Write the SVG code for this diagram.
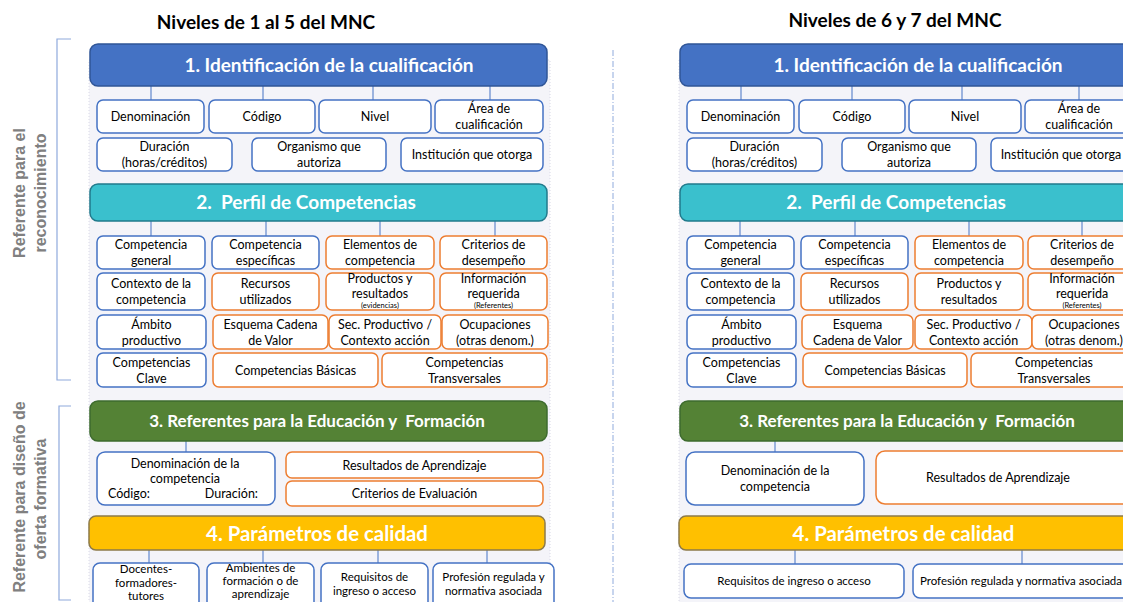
<svg xmlns="http://www.w3.org/2000/svg" width="1123" height="602" viewBox="0 0 1123 602">
<style>
.bg{fill:#ffffff}
.panel{fill:#f4f4f9;stroke:#d8d8e6;stroke-width:1;stroke-dasharray:1 2}
.bb{fill:#ffffff;stroke:#4472c4;stroke-width:1.5}
.ob{fill:#ffffff;stroke:#ed7d31;stroke-width:1.5}
.h1{fill:#4472c4;stroke:#2f5597;stroke-width:1.5}
.h2{fill:#3ac0cd;stroke:#217a8c;stroke-width:1.5}
.h3{fill:#548235;stroke:#3d6b2e;stroke-width:1.5}
.h4{fill:#ffc000;stroke:#8c7a4a;stroke-width:1.5}
.t{font-family:Lato,"Open Sans",sans-serif;font-size:12.5px;fill:#000;text-anchor:middle}
.ts{font-family:Lato,"Open Sans",sans-serif;font-size:11.5px;fill:#000;text-anchor:middle}
.tx{font-family:Lato,"Open Sans",sans-serif;font-size:7.5px;fill:#000;text-anchor:middle}
.ht{font-family:Lato,"Open Sans",sans-serif;font-size:19px;font-weight:bold;fill:#fff;text-anchor:middle}
.ht3{font-family:Lato,"Open Sans",sans-serif;font-size:17px;font-weight:bold;fill:#fff;text-anchor:middle}
.ht4{font-family:Lato,"Open Sans",sans-serif;font-size:20.4px;font-weight:bold;fill:#fff;text-anchor:middle}
.title{font-family:Lato,"Open Sans",sans-serif;font-size:19px;font-weight:bold;fill:#000;text-anchor:middle}
.side{font-family:"Liberation Sans",Arial,sans-serif;font-size:16px;font-weight:bold;fill:#808080;text-anchor:middle}
.con line{stroke:#4472c4;stroke-width:1}
.brk{fill:none;stroke:#8faadc;stroke-width:1.2}
.sep{stroke:#8faadc;stroke-width:1;stroke-dasharray:6 2 1 2}
</style>
<rect class="bg" x="0" y="0" width="1123" height="602"/>

<g id="side-labels">
  <path class="brk" d="M71,39 H57 V380 H71"/>
  <path class="brk" d="M71,406 H59 V600 H71"/>
  <text class="side" transform="translate(25,193) rotate(-90)">Referente para el</text>
  <text class="side" transform="translate(46,193) rotate(-90)">reconocimiento</text>
  <text class="side" transform="translate(25,497) rotate(-90)">Referente para diseño de</text>
  <text class="side" transform="translate(46,499) rotate(-90)">oferta formativa</text>
  <line class="sep" x1="613" y1="50" x2="613" y2="602"/>
</g>

<g id="titles">
  <text class="title" x="266" y="29">Niveles de 1 al 5 del MNC</text>
  <text class="title" x="895" y="27">Niveles de 6 y 7 del MNC</text>
</g>

<rect class="panel" x="89" y="60" width="461" height="550"/>
<rect class="panel" x="679" y="60" width="460" height="550"/>

<g id="connectors" class="con">
  <line x1="151" y1="86" x2="151" y2="100"/><line x1="263" y1="86" x2="263" y2="100"/><line x1="373" y1="86" x2="373" y2="100"/><line x1="490" y1="86" x2="490" y2="100"/>
  <line x1="151" y1="221" x2="151" y2="236"/><line x1="266" y1="221" x2="266" y2="236"/><line x1="380" y1="221" x2="380" y2="236"/><line x1="495" y1="221" x2="495" y2="236"/>
  <line x1="186" y1="441" x2="186" y2="452"/>
  <line x1="149" y1="550" x2="149" y2="563"/><line x1="263" y1="550" x2="263" y2="563"/><line x1="378" y1="550" x2="378" y2="563"/><line x1="487" y1="550" x2="487" y2="563"/>
  <line x1="741" y1="86" x2="741" y2="100"/><line x1="852" y1="86" x2="852" y2="100"/><line x1="962" y1="86" x2="962" y2="100"/><line x1="1079" y1="86" x2="1079" y2="100"/>
  <line x1="740" y1="221" x2="740" y2="236"/><line x1="855" y1="221" x2="855" y2="236"/><line x1="969" y1="221" x2="969" y2="236"/><line x1="1082" y1="221" x2="1082" y2="236"/>
  <line x1="775" y1="441" x2="775" y2="452"/>
  <line x1="795" y1="550" x2="795" y2="564"/><line x1="1022" y1="550" x2="1022" y2="564"/>
</g>

<!-- LEFT PANEL -->
<g id="L-h1"><rect class="h1" x="90" y="44" width="457" height="42" rx="8"/><text class="ht" x="329" y="72">1. Identificación de la cualificación</text></g>
<g id="L-denominacion"><rect class="bb" x="97" y="100" width="107" height="33" rx="6"/><text class="t" x="150.5" y="121">Denominación</text></g>
<g id="L-codigo"><rect class="bb" x="209" y="100" width="106" height="33" rx="6"/><text class="t" x="262" y="121">Código</text></g>
<g id="L-nivel"><rect class="bb" x="319" y="100" width="112" height="33" rx="6"/><text class="t" x="375" y="121">Nivel</text></g>
<g id="L-area"><rect class="bb" x="435" y="100" width="108" height="33" rx="6"/><text class="t" x="489" y="113">Área de</text><text class="t" x="489" y="129">cualificación</text></g>
<g id="L-duracion"><rect class="bb" x="97" y="138" width="135" height="33" rx="6"/><text class="t" x="164.5" y="151">Duración</text><text class="t" x="164.5" y="167">(horas/créditos)</text></g>
<g id="L-organismo"><rect class="bb" x="252" y="138" width="134" height="33" rx="6"/><text class="t" x="319" y="151">Organismo que</text><text class="t" x="319" y="167">autoriza</text></g>
<g id="L-institucion"><rect class="bb" x="401" y="138" width="142" height="33" rx="6"/><text class="t" x="472" y="159">Institución que otorga</text></g>

<g id="L-h2"><rect class="h2" x="90" y="184" width="457" height="37" rx="8"/><text class="ht" x="306" y="209" xml:space="preserve">2.  Perfil de Competencias</text></g>
<g id="L-comp-general"><rect class="bb" x="97" y="236" width="108" height="33" rx="6"/><text class="t" x="151" y="249">Competencia</text><text class="t" x="151" y="265">general</text></g>
<g id="L-comp-especificas"><rect class="bb" x="212" y="236" width="107" height="33" rx="6"/><text class="t" x="265.5" y="249">Competencia</text><text class="t" x="265.5" y="265">específicas</text></g>
<g id="L-elementos"><rect class="ob" x="326" y="236" width="108" height="33" rx="6"/><text class="t" x="380" y="249">Elementos de</text><text class="t" x="380" y="265">competencia</text></g>
<g id="L-criterios-des"><rect class="ob" x="440" y="236" width="107" height="33" rx="6"/><text class="t" x="493.5" y="249">Criterios de</text><text class="t" x="493.5" y="265">desempeño</text></g>
<g id="L-contexto"><rect class="bb" x="97" y="273" width="108" height="37" rx="6"/><text class="t" x="151" y="288">Contexto de la</text><text class="t" x="151" y="304">competencia</text></g>
<g id="L-recursos"><rect class="ob" x="212" y="273" width="107" height="37" rx="6"/><text class="t" x="265.5" y="288">Recursos</text><text class="t" x="265.5" y="304">utilizados</text></g>
<g id="L-productos"><rect class="ob" x="326" y="273" width="108" height="37" rx="6"/><text class="t" x="380" y="283">Productos y</text><text class="t" x="380" y="298">resultados</text><text class="tx" x="380" y="308">(evidencias)</text></g>
<g id="L-informacion"><rect class="ob" x="440" y="273" width="107" height="37" rx="6"/><text class="t" x="493.5" y="283">Información</text><text class="t" x="493.5" y="298">requerida</text><text class="tx" x="493.5" y="308">(Referentes)</text></g>
<g id="L-ambito"><rect class="bb" x="97" y="315" width="109" height="34" rx="6"/><text class="t" x="151.5" y="328.5">Ámbito</text><text class="t" x="151.5" y="344.5">productivo</text></g>
<g id="L-esquema"><rect class="ob" x="213" y="315" width="115" height="34" rx="6"/><text class="t" x="270.5" y="328.5">Esquema Cadena</text><text class="t" x="270.5" y="344.5">de Valor</text></g>
<g id="L-sector"><rect class="ob" x="329" y="315" width="112" height="34" rx="6"/><text class="t" x="385" y="328.5">Sec. Productivo /</text><text class="t" x="385" y="344.5">Contexto acción</text></g>
<g id="L-ocupaciones"><rect class="ob" x="442" y="315" width="106" height="34" rx="6"/><text class="t" x="495" y="328.5">Ocupaciones</text><text class="t" x="495" y="344.5">(otras denom.)</text></g>
<g id="L-clave"><rect class="bb" x="97" y="353" width="109" height="34" rx="6"/><text class="t" x="151.5" y="366.5">Competencias</text><text class="t" x="151.5" y="382.5">Clave</text></g>
<g id="L-basicas"><rect class="ob" x="213" y="353" width="165" height="34" rx="6"/><text class="t" x="295.5" y="374.5">Competencias Básicas</text></g>
<g id="L-transversales"><rect class="ob" x="382" y="353" width="165" height="34" rx="6"/><text class="t" x="464.5" y="366.5">Competencias</text><text class="t" x="464.5" y="382.5">Transversales</text></g>

<g id="L-h3"><rect class="h3" x="90" y="401" width="457" height="40" rx="8"/><text class="ht3" x="317" y="427" xml:space="preserve">3. Referentes para la Educación y  Formación</text></g>
<g id="L-denom-comp"><rect class="bb" x="97" y="452" width="178" height="53" rx="8"/><text class="t" x="185" y="468">Denominación de la</text><text class="t" x="185" y="483">competencia</text><text class="t" x="108" y="498" style="text-anchor:start">Código:</text><text class="t" x="258" y="498" style="text-anchor:end">Duración:</text></g>
<g id="L-resultados"><rect class="ob" x="286" y="452" width="257" height="26" rx="6"/><text class="t" x="414.5" y="469.5">Resultados de Aprendizaje</text></g>
<g id="L-criterios-eval"><rect class="ob" x="286" y="481" width="257" height="25" rx="6"/><text class="t" x="414.5" y="497.5">Criterios de Evaluación</text></g>

<g id="L-h4"><rect class="h4" x="89" y="516" width="456" height="34" rx="7"/><text class="ht4" x="317" y="541">4. Parámetros de calidad</text></g>
<g id="L-docentes"><rect class="bb" x="93" y="563" width="106" height="46" rx="7"/><text class="ts" x="146" y="573">Docentes-</text><text class="ts" x="146" y="587">formadores-</text><text class="ts" x="146" y="600">tutores</text></g>
<g id="L-ambientes"><rect class="bb" x="207" y="563" width="107" height="46" rx="7"/><text class="ts" x="260.5" y="572">Ambientes de</text><text class="ts" x="260.5" y="585">formación o de</text><text class="ts" x="260.5" y="598">aprendizaje</text></g>
<g id="L-requisitos"><rect class="bb" x="321" y="563" width="107" height="46" rx="7"/><text class="ts" x="374.5" y="581">Requisitos de</text><text class="ts" x="374.5" y="595">ingreso o acceso</text></g>
<g id="L-profesion"><rect class="bb" x="433" y="563" width="121" height="46" rx="7"/><text class="ts" x="493.5" y="581">Profesión regulada y</text><text class="ts" x="493.5" y="595">normativa asociada</text></g>

<!-- RIGHT PANEL -->
<g id="R-h1"><rect class="h1" x="680" y="44" width="460" height="42" rx="8"/><text class="ht" x="918" y="72">1. Identificación de la cualificación</text></g>
<g id="R-denominacion"><rect class="bb" x="687" y="100" width="107" height="33" rx="6"/><text class="t" x="740.5" y="121">Denominación</text></g>
<g id="R-codigo"><rect class="bb" x="799" y="100" width="106" height="33" rx="6"/><text class="t" x="852" y="121">Código</text></g>
<g id="R-nivel"><rect class="bb" x="909" y="100" width="112" height="33" rx="6"/><text class="t" x="965" y="121">Nivel</text></g>
<g id="R-area"><rect class="bb" x="1025" y="100" width="108" height="33" rx="6"/><text class="t" x="1079" y="113">Área de</text><text class="t" x="1079" y="129">cualificación</text></g>
<g id="R-duracion"><rect class="bb" x="687" y="138" width="135" height="33" rx="6"/><text class="t" x="754.5" y="151">Duración</text><text class="t" x="754.5" y="167">(horas/créditos)</text></g>
<g id="R-organismo"><rect class="bb" x="842" y="138" width="134" height="33" rx="6"/><text class="t" x="909" y="151">Organismo que</text><text class="t" x="909" y="167">autoriza</text></g>
<g id="R-institucion"><rect class="bb" x="991" y="138" width="142" height="33" rx="6"/><text class="t" x="1061" y="159">Institución que otorga</text></g>

<g id="R-h2"><rect class="h2" x="680" y="184" width="460" height="37" rx="8"/><text class="ht" x="896" y="209" xml:space="preserve">2.  Perfil de Competencias</text></g>
<g id="R-comp-general"><rect class="bb" x="687" y="236" width="107" height="33" rx="6"/><text class="t" x="740.5" y="249">Competencia</text><text class="t" x="740.5" y="265">general</text></g>
<g id="R-comp-especificas"><rect class="bb" x="801" y="236" width="107" height="33" rx="6"/><text class="t" x="854.5" y="249">Competencia</text><text class="t" x="854.5" y="265">específicas</text></g>
<g id="R-elementos"><rect class="ob" x="915" y="236" width="108" height="33" rx="6"/><text class="t" x="969" y="249">Elementos de</text><text class="t" x="969" y="265">competencia</text></g>
<g id="R-criterios-des"><rect class="ob" x="1028" y="236" width="108" height="33" rx="6"/><text class="t" x="1082" y="249">Criterios de</text><text class="t" x="1082" y="265">desempeño</text></g>
<g id="R-contexto"><rect class="bb" x="687" y="273" width="107" height="37" rx="6"/><text class="t" x="740.5" y="288">Contexto de la</text><text class="t" x="740.5" y="304">competencia</text></g>
<g id="R-recursos"><rect class="ob" x="801" y="273" width="107" height="37" rx="6"/><text class="t" x="854.5" y="288">Recursos</text><text class="t" x="854.5" y="304">utilizados</text></g>
<g id="R-productos"><rect class="ob" x="915" y="273" width="108" height="37" rx="6"/><text class="t" x="969" y="288">Productos y</text><text class="t" x="969" y="304">resultados</text></g>
<g id="R-informacion"><rect class="ob" x="1028" y="273" width="108" height="37" rx="6"/><text class="t" x="1082" y="283">Información</text><text class="t" x="1082" y="298">requerida</text><text class="tx" x="1082" y="308">(Referentes)</text></g>
<g id="R-ambito"><rect class="bb" x="687" y="315" width="109" height="34" rx="6"/><text class="t" x="741.5" y="328.5">Ámbito</text><text class="t" x="741.5" y="344.5">productivo</text></g>
<g id="R-esquema"><rect class="ob" x="802" y="315" width="111" height="34" rx="6"/><text class="t" x="857.5" y="328.5">Esquema</text><text class="t" x="857.5" y="344.5">Cadena de Valor</text></g>
<g id="R-sector"><rect class="ob" x="915" y="315" width="117" height="34" rx="6"/><text class="t" x="973.5" y="328.5">Sec. Productivo /</text><text class="t" x="973.5" y="344.5">Contexto acción</text></g>
<g id="R-ocupaciones"><rect class="ob" x="1032" y="315" width="106" height="34" rx="6"/><text class="t" x="1084" y="328.5">Ocupaciones</text><text class="t" x="1084" y="344.5">(otras denom.)</text></g>
<g id="R-clave"><rect class="bb" x="687" y="353" width="109" height="34" rx="6"/><text class="t" x="741.5" y="366.5">Competencias</text><text class="t" x="741.5" y="382.5">Clave</text></g>
<g id="R-basicas"><rect class="ob" x="803" y="353" width="164" height="34" rx="6"/><text class="t" x="885" y="374.5">Competencias Básicas</text></g>
<g id="R-transversales"><rect class="ob" x="971" y="353" width="166" height="34" rx="6"/><text class="t" x="1054" y="366.5">Competencias</text><text class="t" x="1054" y="382.5">Transversales</text></g>

<g id="R-h3"><rect class="h3" x="680" y="401" width="460" height="40" rx="8"/><text class="ht3" x="907" y="427" xml:space="preserve">3. Referentes para la Educación y  Formación</text></g>
<g id="R-denom-comp"><rect class="bb" x="686" y="452" width="178" height="53" rx="9"/><text class="t" x="775" y="475">Denominación de la</text><text class="t" x="775" y="491">competencia</text></g>
<g id="R-resultados"><rect class="ob" x="876" y="451" width="270" height="53" rx="9"/><text class="t" x="998" y="482">Resultados de Aprendizaje</text></g>

<g id="R-h4"><rect class="h4" x="679" y="516" width="461" height="34" rx="7"/><text class="ht4" x="903.5" y="541">4. Parámetros de calidad</text></g>
<g id="R-requisitos"><rect class="bb" x="684" y="564" width="220" height="34" rx="7"/><text class="ts" x="794" y="585">Requisitos de ingreso o acceso</text></g>
<g id="R-profesion"><rect class="bb" x="913" y="564" width="230" height="34" rx="7"/><text class="ts" x="1021" y="585">Profesión regulada y normativa asociada</text></g>
</svg>
